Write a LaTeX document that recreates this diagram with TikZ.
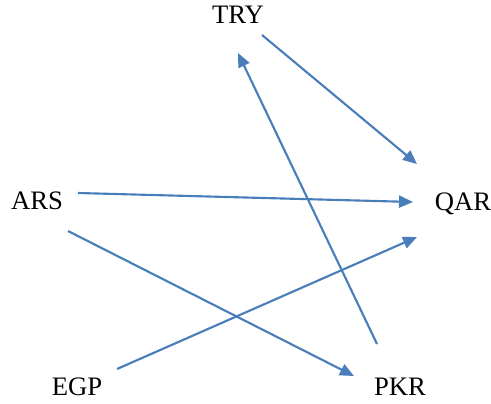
\documentclass[tikz,border=0pt]{standalone}
\usepackage{fontspec}
\setmainfont{Liberation Serif}
\usepackage{tikz}
\usetikzlibrary{arrows.meta}

\definecolor{linkblue}{RGB}{74,126,187}
\tikzset{
  cur/.style={anchor=base, inner sep=0pt, font=\fontsize{20}{23}\selectfont},
  link/.style={draw=linkblue, line width=1.6pt,
    -{Triangle[length=10.5pt,width=9pt]}}
}

\begin{document}
\begin{tikzpicture}[x=0.75pt,y=-0.75pt]
      \useasboundingbox (0,0) rectangle (491,403);
      \node[cur] (try) at (238,24) {TRY};
      \node[cur] (qar) at (463,210) {QAR};
      \node[cur] (ars) at (37,209) {ARS};
      \node[cur] (egp) at (77,395) {EGP};
      \node[cur] (pkr) at (400,395) {PKR};
      \draw[link] ([shift={(24,11)}]try.base) -- ([shift={(-46,-46)}]qar.base);
      \draw[link] ([shift={(41,-16)}]ars.base) -- ([shift={(-50,-8)}]qar.base);
      \draw[link] ([shift={(31,22)}]ars.base) -- ([shift={(-46,-19)}]pkr.base);
      \draw[link] ([shift={(40,-26)}]egp.base) -- ([shift={(-46,27)}]qar.base);
      \draw[link] ([shift={(-23,-51)}]pkr.base) -- ([shift={(0,29)}]try.base);
    \end{tikzpicture}
\end{document}
